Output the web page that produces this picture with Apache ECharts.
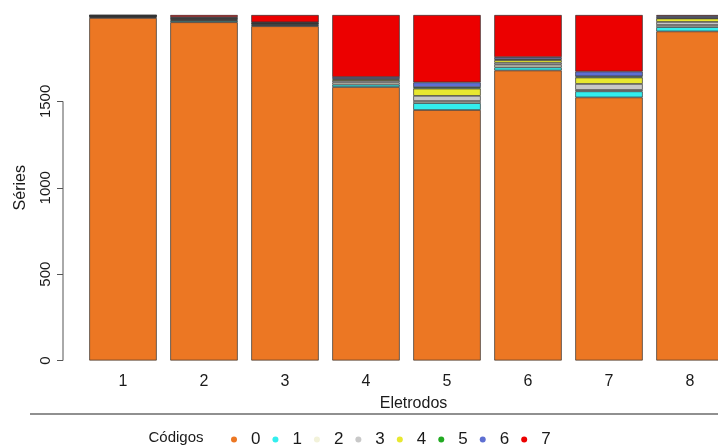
<!DOCTYPE html>
<html>
<head>
<meta charset="utf-8">
<script src="https://cdn.jsdelivr.net/npm/echarts@6/dist/echarts.min.js"></script>
<style>
  html, body { margin: 0; padding: 0; background: #fff; }
  #chart { width: 718px; height: 448px; }
</style>
</head>
<body>
<div id="chart"></div>
<script>
// Electrodes on the x axis, one stacked bar each
const electrodes = ['1', '2', '3', '4', '5', '6', '7', '8'];

// Code labels shown in the legend
const codes = ['0', '1', '2', '3', '4', '5', '6', '7'];

// Number of series per code, one value per electrode
const code0 = [1983, 1958, 1935, 1583, 1450, 1679, 1523, 1905];
const code1 = [4, 8, 6, 14, 40, 18, 35, 25];
const code2 = [3, 5, 4, 12, 12, 15, 8, 12];
const code3 = [3, 5, 4, 10, 30, 12, 35, 18];
const code4 = [2, 4, 3, 8, 42, 15, 37, 20];
const code5 = [1, 2, 2, 4, 8, 5, 7, 3];
const code6 = [2, 6, 4, 10, 28, 12, 28, 10];
const code7 = [2, 12, 42, 359, 390, 244, 327, 7];

// Y axis tick values
const yTicks = [0, 500, 1000, 1500];

const codeValues = [code0, code1, code2, code3, code4, code5, code6, code7];
const codeColors = ['#EC7723', '#33EEEE', '#F2F2DA', '#C8C8C8', '#E8E830', '#22AA22', '#5E6FD2', '#EC0000'];

const FONT = 'Liberation Sans, Arial, sans-serif';
const GRID_LEFT = 82.5;
const GRID_WIDTH = 648;
const AXIS_OFFSET = 19.5;

const chart = echarts.init(document.getElementById('chart'), null, { renderer: 'canvas' });

const series = codes.map((c, i) => ({
  name: c,
  type: 'bar',
  stack: 'total',
  data: codeValues[i],
  barWidth: 67.5,
  itemStyle: { color: codeColors[i], borderColor: '#333', borderWidth: 0.7 },
  emphasis: { disabled: true },
  animation: false
}));

chart.setOption({
  animation: false,
  backgroundColor: '#ffffff',
  grid: {
    left: GRID_LEFT, width: GRID_WIDTH, top: 15, bottom: 87.5,
    containLabel: false, outerBoundsMode: 'none'
  },
  xAxis: {
    type: 'category',
    data: electrodes,
    axisLine: { show: false },
    axisTick: { show: false },
    axisLabel: { fontFamily: FONT, fontSize: 16, color: '#1a1a1a', margin: 13 },
    name: 'Eletrodos',
    nameLocation: 'middle',
    nameGap: 35,
    nameTextStyle: { fontFamily: FONT, fontSize: 16, color: '#1a1a1a', padding: [0, 0, 0, 14] }
  },
  yAxis: {
    type: 'value',
    min: 0,
    max: 2000,
    interval: 500,
    offset: AXIS_OFFSET,
    splitLine: { show: false },
    axisLine: { show: false },
    axisTick: { show: true, length: 6, lineStyle: { color: '#555' }, customValues: yTicks },
    axisLabel: {
      fontFamily: FONT, fontSize: 15, color: '#1a1a1a', rotate: 90, margin: 10,
      customValues: yTicks,
      formatter: v => String(v)
    },
    name: 'Séries',
    nameLocation: 'middle',
    nameRotate: 90,
    nameGap: 34,
    nameTextStyle: { fontFamily: FONT, fontSize: 16, color: '#1a1a1a' }
  },
  legend: {
    data: codes,
    left: 226,
    top: 426,
    icon: 'circle',
    itemWidth: 6,
    itemHeight: 6,
    itemGap: 12,
    selectedMode: false,
    itemStyle: { borderWidth: 0 },
    textStyle: { fontFamily: FONT, fontSize: 17, color: '#1a1a1a', padding: [0, 0, 0, 9] }
  },
  series: series
});

// Axis line spanning only the labelled range, plus the separator and legend title
const yBottom = chart.convertToPixel({ yAxisIndex: 0 }, yTicks[0]);
const yTop = chart.convertToPixel({ yAxisIndex: 0 }, yTicks[yTicks.length - 1]);
const axisX = GRID_LEFT - AXIS_OFFSET;

chart.setOption({
  graphic: [
    {
      type: 'line',
      shape: { x1: axisX, y1: yBottom, x2: axisX, y2: yTop },
      style: { stroke: '#555', lineWidth: 1 },
      silent: true
    },
    {
      type: 'line',
      shape: { x1: 30, y1: 414, x2: 718, y2: 414 },
      style: { stroke: '#222', lineWidth: 1.2 },
      silent: true
    },
    {
      type: 'text',
      x: 176,
      y: 438,
      style: {
        text: 'Códigos', fontFamily: FONT, fontSize: 15, fill: '#1a1a1a',
        align: 'center', verticalAlign: 'middle'
      },
      silent: true
    }
  ]
});
</script>
</body>
</html>
